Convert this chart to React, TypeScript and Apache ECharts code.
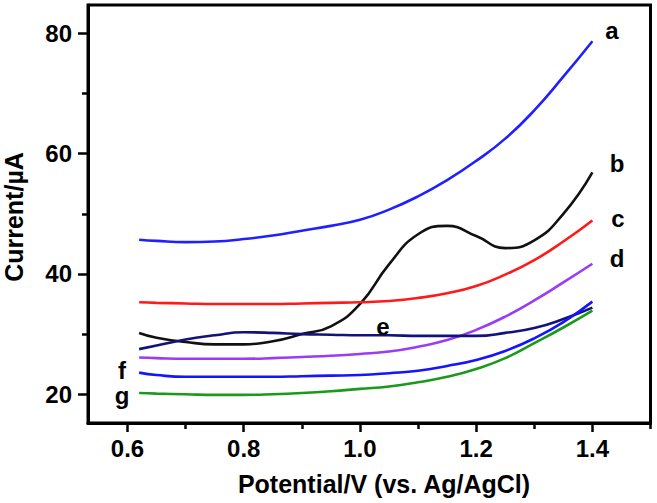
import React, { useEffect, useRef } from "react";
import * as echarts from "echarts";

// Potential (V) sampling positions
const potentials = [0.62, 0.65, 0.7, 0.75, 0.8, 0.85, 0.9, 0.95, 1.0, 1.05, 1.1, 1.15, 1.2, 1.25, 1.3, 1.35, 1.4];
const curveA = [45.7, 45.5, 45.3, 45.4, 45.8, 46.4, 47.2, 48.0, 49.0, 50.7, 52.9, 55.6, 58.8, 62.5, 67.2, 72.8, 78.7];
const curveB = [30.2, 29.4, 28.7, 28.3, 28.3, 28.8, 30.0, 31.3, 35.0, 41.6, 46.6, 48.0, 46.3, 44.3, 45.6, 50.0, 56.9];
const curveC = [35.3, 35.2, 35.1, 35.0, 35.0, 35.0, 35.1, 35.2, 35.3, 35.5, 36.0, 36.8, 38.0, 39.9, 42.3, 45.4, 48.9];
const curveD = [26.1, 26.0, 25.9, 25.9, 25.9, 26.0, 26.2, 26.4, 26.7, 27.1, 27.9, 29.0, 30.7, 32.9, 35.6, 38.6, 41.7];
const curveE = [27.5, 28.1, 29.1, 29.8, 30.3, 30.2, 30.0, 29.9, 29.8, 29.8, 29.7, 29.7, 29.7, 30.2, 31.0, 32.5, 34.4];
const curveF = [23.6, 23.2, 22.9, 22.9, 22.9, 22.9, 23.0, 23.1, 23.2, 23.5, 23.9, 24.7, 25.7, 27.2, 29.3, 32.0, 35.4];
const curveG = [20.2, 20.1, 20.0, 19.9, 19.9, 20.0, 20.2, 20.5, 20.9, 21.3, 22.0, 22.9, 24.2, 26.0, 28.5, 31.1, 33.9];

const xMajorTicks = [0.6, 0.8, 1.0, 1.2, 1.4];
const xMinorTicks = [0.7, 0.9, 1.1, 1.3, 1.5];
const yMajorTicks = [20, 40, 60, 80];
const yMinorTicks = [30, 50, 70];

const curveNames = ["a", "b", "c", "d", "e", "f", "g"];

const FONT = "'Liberation Sans', Arial, sans-serif";

function pairs(xs: number[], ys: number[]) {
  return xs.map((x, i) => [x, ys[i]]);
}

export default function App() {
  const ref = useRef<HTMLDivElement>(null);
  useEffect(() => {
    if (!ref.current) return;
    const chart = echarts.init(ref.current, undefined, { renderer: "svg" });
    const X_MIN = 0.532;
    const X_MAX = 1.5;
    const Y_MIN = 15.22;
    const Y_MAX = 84.72;
    const axisLineStyle = { color: "#000", width: 3 };
    const labelStyle = {
      color: "#000",
      fontFamily: FONT,
      fontWeight: "bold" as const,
      fontSize: 24,
    };
    const mkLine = (name: string, data: number[][], color: string) => ({
      type: "line",
      name,
      data,
      smooth: 0.5,
      showSymbol: false,
      symbol: "none",
      lineStyle: { color, width: 2.6 },
      xAxisIndex: 0,
      yAxisIndex: 0,
      z: 3,
    });
    const labelPos: Record<string, [number, number]> = {
      a: [612, 30],
      b: [617, 163],
      c: [618, 218],
      d: [617, 258],
      e: [383, 326],
      f: [122, 370],
      g: [122, 395],
    };
    chart.setOption({
      animation: false,
      backgroundColor: "#fff",
      grid: {
        left: 88,
        top: 5,
        right: 6.5,
        bottom: 80,
        show: true,
        borderColor: "#000",
        borderWidth: 3,
        backgroundColor: "transparent",
      },
      xAxis: [
        {
          type: "value",
          min: X_MIN,
          max: X_MAX,
          position: "bottom",
          axisLine: { show: true, lineStyle: axisLineStyle },
          axisTick: {
            show: true,
            inside: false,
            length: 9,
            customValues: xMajorTicks,
            lineStyle: { color: "#000", width: 2.5 },
          },
          axisLabel: {
            ...labelStyle,
            margin: 13,
            customValues: xMajorTicks,
            formatter: (v: number) => v.toFixed(1),
          },
          splitLine: { show: false },
        },
        {
          type: "value",
          min: X_MIN,
          max: X_MAX,
          position: "bottom",
          axisLine: { show: false },
          axisTick: {
            show: true,
            inside: false,
            length: 6,
            customValues: xMinorTicks,
            lineStyle: { color: "#000", width: 2.5 },
          },
          axisLabel: { show: false },
          splitLine: { show: false },
        },
      ],
      yAxis: [
        {
          type: "value",
          min: Y_MIN,
          max: Y_MAX,
          position: "left",
          axisLine: { show: true, lineStyle: axisLineStyle },
          axisTick: {
            show: true,
            inside: false,
            length: 10,
            customValues: yMajorTicks,
            lineStyle: { color: "#000", width: 2.5 },
          },
          axisLabel: {
            ...labelStyle,
            margin: 16,
            customValues: yMajorTicks,
          },
          splitLine: { show: false },
        },
        {
          type: "value",
          min: Y_MIN,
          max: Y_MAX,
          position: "left",
          axisLine: { show: false },
          axisTick: {
            show: true,
            inside: false,
            length: 6,
            customValues: yMinorTicks,
            lineStyle: { color: "#000", width: 2.5 },
          },
          axisLabel: { show: false },
          splitLine: { show: false },
        },
      ],
      series: [
        mkLine("a", pairs(potentials, curveA), "#2020ff"),
        mkLine("b", pairs(potentials, curveB), "#111111"),
        mkLine("c", pairs(potentials, curveC), "#ff1a1a"),
        mkLine("d", pairs(potentials, curveD), "#9a3cf5"),
        mkLine("e", pairs(potentials, curveE), "#12127a"),
        mkLine("f", pairs(potentials, curveF), "#1414ff"),
        mkLine("g", pairs(potentials, curveG), "#1a9a1a"),
      ],
      graphic: [
        ...curveNames.map((n) => ({
          type: "text",
          x: labelPos[n][0],
          y: labelPos[n][1],
          style: {
            text: n,
            fill: "#000",
            font: `bold 24px ${FONT}`,
            lineHeight: 18,
            textAlign: "center",
            textVerticalAlign: "middle",
          },
          z: 10,
        })),
        {
          type: "text",
          x: 384,
          y: 484,
          style: {
            text: "Potential/V (vs. Ag/AgCl)",
            fill: "#000",
            font: `bold 25px ${FONT}`,
            textAlign: "center",
            textVerticalAlign: "middle",
          },
        },
        {
          type: "text",
          x: 14,
          y: 217,
          rotation: Math.PI / 2,
          style: {
            text: "Current/\u00b5A",
            fill: "#000",
            font: `bold 25px ${FONT}`,
            textAlign: "center",
            textVerticalAlign: "middle",
          },
        },
      ],
    });
    return () => chart.dispose();
  }, []);
  return <div ref={ref} style={{ width: 657, height: 503, position: "absolute", left: 0, top: 0 }} />;
}
